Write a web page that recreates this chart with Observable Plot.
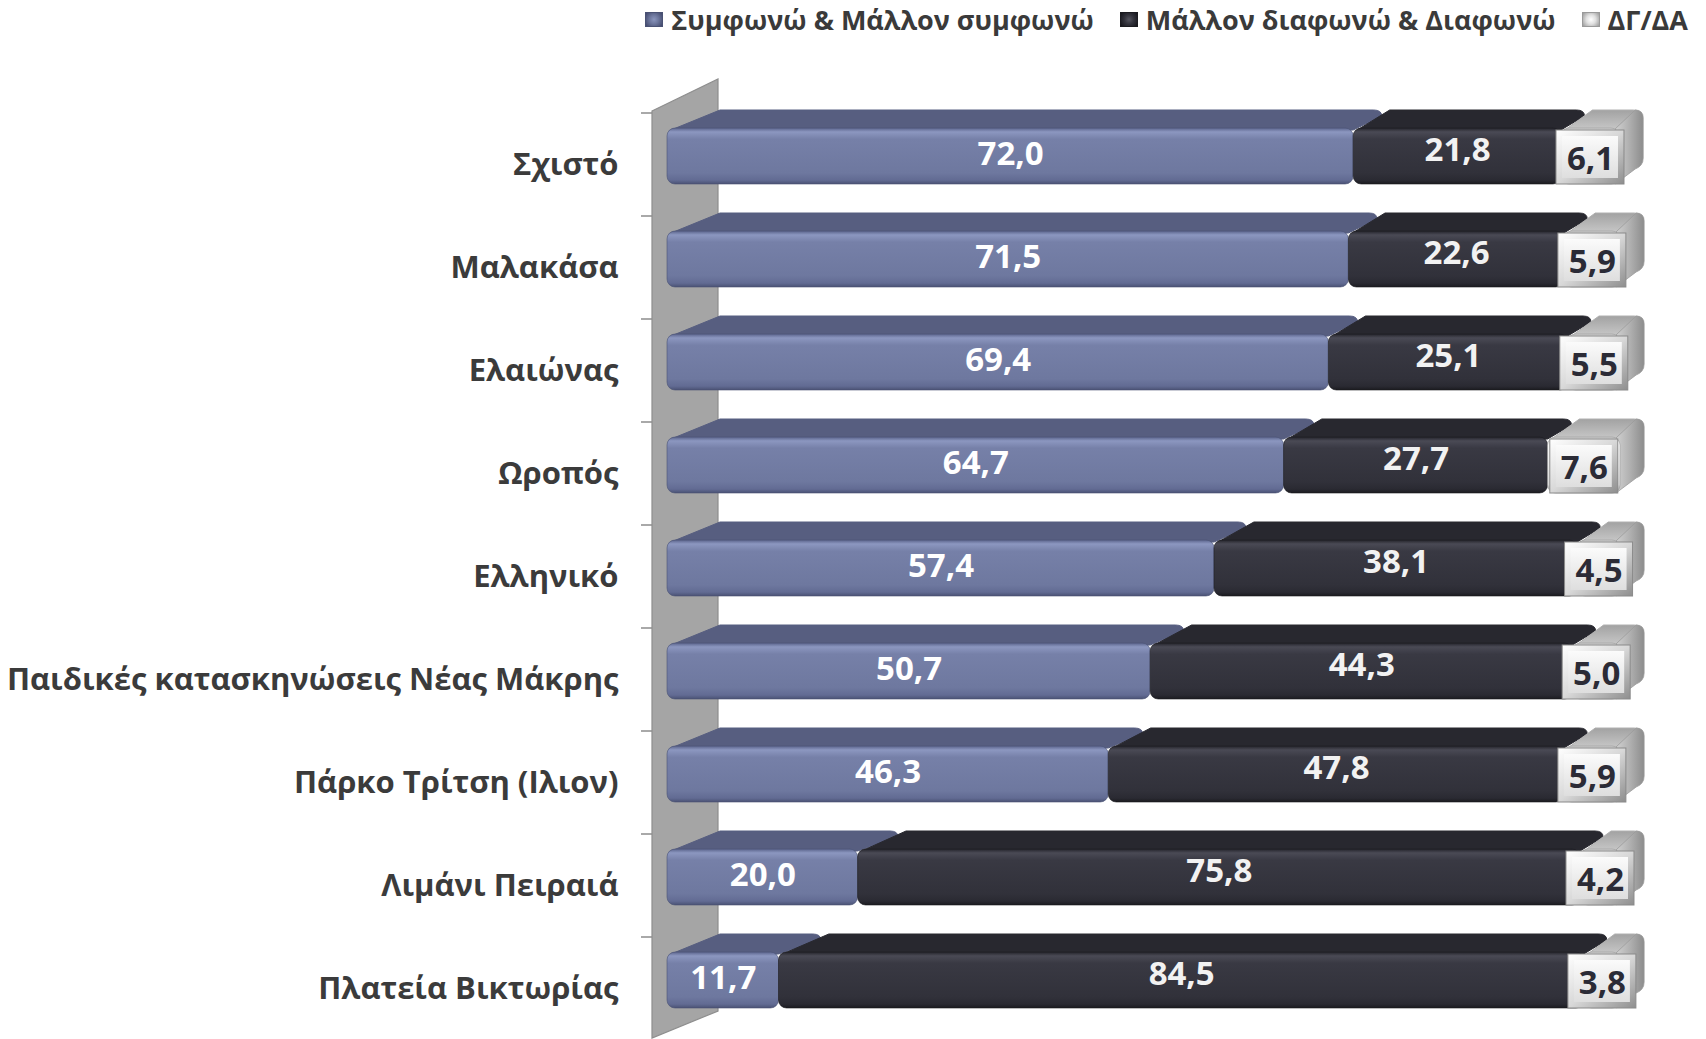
<!DOCTYPE html>
<html>
<head>
<meta charset="utf-8">
<script src="https://cdn.jsdelivr.net/npm/d3@7"></script>
<script src="https://cdn.jsdelivr.net/npm/@observablehq/plot@0.6"></script>
<style>
  html, body { margin: 0; padding: 0; background: #ffffff; }
  #wrap { position: relative; width: 1706px; height: 1039px; overflow: hidden; }
  #legend { position: absolute; top: 1px; right: 18px; display: flex; align-items: center;
            font-family: "Open Sans", sans-serif; font-weight: 700; font-size: 27px; color: #3a3a3a;
            white-space: nowrap; }
  .item { display: flex; align-items: center; margin-left: 28px; }
  .sw { width: 18px; height: 15px; margin-right: 8px; box-sizing: border-box; }
</style>
</head>
<body>
<div id="wrap"><div id="legend"></div></div>
<script>
// ---- data ----
const categories = [
  "Σχιστό",
  "Μαλακάσα",
  "Ελαιώνας",
  "Ωροπός",
  "Ελληνικό",
  "Παιδικές κατασκηνώσεις Νέας Μάκρης",
  "Πάρκο Τρίτση (Ιλιον)",
  "Λιμάνι Πειραιά",
  "Πλατεία Βικτωρίας"
];
const seriesNames = ["Συμφωνώ & Μάλλον συμφωνώ", "Μάλλον διαφωνώ & Διαφωνώ", "ΔΓ/ΔΑ"];
const agree    = [72.0, 71.5, 69.4, 64.7, 57.4, 50.7, 46.3, 20.0, 11.7];
const disagree = [21.8, 22.6, 25.1, 27.7, 38.1, 44.3, 47.8, 75.8, 84.5];
const dkna     = [6.1, 5.9, 5.5, 7.6, 4.5, 5.0, 5.9, 4.2, 3.8];
const seriesValues = [agree, disagree, dkna];

// ---- styles ----
const frontStops = [
  [[0, "#5b648c"], [0.07, "#8c97c0"], [0.2, "#7680a8"], [0.8, "#6e789f"], [0.93, "#626b93"], [1, "#4a5274"]],
  [[0, "#24242b"], [0.07, "#4a4a55"], [0.2, "#393943"], [0.8, "#31313a"], [0.93, "#2a2a32"], [1, "#1b1b20"]],
  [[0, "#c4c4c4"], [0.1, "#ffffff"], [0.5, "#f0f0f0"], [0.85, "#dcdcdc"], [1, "#9a9a9a"]]
];
const topColors = ["#575e80", "#28282f", "#b4b4b4"];
const labelColors = ["#ffffff", "#f2f2f2", "#2b2b36"];
const labelShift = [-2, -6, 3];
const fmt = v => d3.format(".1f")(v).replace(".", ",");

// ---- table ----
const rows = [];
categories.forEach((cat, i) => {
  let acc = 0;
  seriesValues.forEach((vals, k) => {
    const v = vals[i];
    rows.push({cat, k, value: v, x1: acc, x2: acc + v, mid: acc + v / 2, last: k === seriesValues.length - 1});
    acc += v;
  });
});

// ---- legend ----
const legend = d3.select("#legend");
const swatchBg = [
  "radial-gradient(circle at 50% 50%, #8a95bd 0%, #6c769c 45%, #40476a 100%)",
  "radial-gradient(circle at 50% 50%, #55555f 0%, #33333c 45%, #15151a 100%)",
  "radial-gradient(circle at 50% 50%, #ffffff 0%, #e0e0e0 45%, #9a9a9a 100%)"
];
seriesNames.forEach((name, k) => {
  const it = legend.append("div").attr("class", "item").style("margin-left", k === 0 ? "0px" : "26px");
  it.append("div").attr("class", "sw").style("background", swatchBg[k]).style("border", "1px solid " + ["#4a5274", "#1b1b20", "#9a9a9a"][k]);
  it.append("span").text(name);
});

// ---- geometry helpers (pixel space, derived from scales) ----
const DY = -18;
function depthDx(px, x0) { return 45 - 0.024 * (px - x0); }

const defsMark = () => {
  const defs = d3.create("svg:defs");
  frontStops.forEach((stops, k) => {
    const lg = defs.append("linearGradient").attr("id", "front" + k).attr("x1", 0).attr("y1", 0).attr("x2", 0).attr("y2", 1);
    stops.forEach(([o, c]) => lg.append("stop").attr("offset", o).attr("stop-color", c));
  });
  const side = defs.append("linearGradient").attr("id", "side").attr("x1", 0).attr("y1", 0).attr("x2", 1).attr("y2", 0);
  [[0, "#d0d0d0"], [0.5, "#b0b0b0"], [1, "#8c8c8c"]].forEach(([o, c]) => side.append("stop").attr("offset", o).attr("stop-color", c));
  const topG = defs.append("linearGradient").attr("id", "topgrey").attr("x1", 0).attr("y1", 1).attr("x2", 0).attr("y2", 0);
  [[0, "#c8c8c8"], [1, "#a2a2a2"]].forEach(([o, c]) => topG.append("stop").attr("offset", o).attr("stop-color", c));
  const outer = defs.append("linearGradient").attr("id", "boxOuter").attr("x1", 0).attr("y1", 0).attr("x2", 1).attr("y2", 1);
  [[0, "#ffffff"], [0.5, "#d8d8d8"], [1, "#8e8e8e"]].forEach(([o, c]) => outer.append("stop").attr("offset", o).attr("stop-color", c));
  const inner = defs.append("linearGradient").attr("id", "boxInner").attr("x1", 0).attr("y1", 0).attr("x2", 0).attr("y2", 1);
  [[0, "#fbfbfb"], [1, "#dedede"]].forEach(([o, c]) => inner.append("stop").attr("offset", o).attr("stop-color", c));
  return defs.node();
};

const wallMark = (index, scales) => {
  const x = scales.x, y = scales.y;
  const bw = y.bandwidth ? y.bandwidth() : 56;
  const x0 = x(0);
  const g = d3.create("svg:g");
  const yTop = y(categories[0]) - 17;
  const yBot = y(categories[categories.length - 1]) + bw + 30;
  const fx = x0 - 15, bx = x0 + 51;
  g.append("polygon")
    .attr("points", [[fx, yTop], [bx, yTop - 32], [bx, yBot - 27], [fx, yBot]].map(p => p.join(",")).join(" "))
    .attr("fill", "#a5a5a5").attr("stroke", "#8e8e8e").attr("stroke-width", 1.2);
  categories.forEach(c => {
    const ty = y(c) - 15;
    g.append("line").attr("x1", fx - 11).attr("x2", fx).attr("y1", ty).attr("y2", ty)
      .attr("stroke", "#8c8c8c").attr("stroke-width", 1.5);
  });
  return g.node();
};

const depthMark = (index, scales) => {
  const x = scales.x, y = scales.y;
  const bw = y.bandwidth ? y.bandwidth() : 56;
  const x0 = x(0);
  const g = d3.create("svg:g");
  rows.forEach(r => {
    const yt = y(r.cat);
    const a = x(r.x1), b = x(r.x2);
    const ab = a + depthDx(a, x0), bb = b + depthDx(b, x0);
    const rr = 8;
    const d = `M${a + 4},${yt + 2} L${ab + rr},${yt + DY} L${bb - rr},${yt + DY} Q${bb},${yt + DY} ${bb},${yt + DY + 6} L${b},${yt + 2} Z`;
    g.append("path").attr("d", d).attr("fill", r.k === 2 ? "url(#topgrey)" : topColors[r.k])
      .attr("stroke", r.k === 2 ? "#b0b0b0" : topColors[r.k]).attr("stroke-width", 1).attr("stroke-linejoin", "round");
    if (r.last) {
      const sd = `M${b - 4},${yt + 1} L${bb - 6},${yt + DY} Q${bb + 2},${yt + DY} ${bb + 2},${yt + DY + 8} L${bb + 2},${yt + bw + DY - 8} Q${bb + 2},${yt + bw + DY} ${bb - 6},${yt + bw + DY + 3} L${b - 4},${yt + bw} Z`;
      g.append("path").attr("d", sd).attr("fill", "url(#side)").attr("stroke", "#9a9a9a").attr("stroke-width", 0.8);
    }
  });
  return g.node();
};

const boxMark = (index, scales) => {
  const x = scales.x, y = scales.y;
  const bw = y.bandwidth ? y.bandwidth() : 56;
  const g = d3.create("svg:g");
  rows.filter(r => r.k === 2).forEach(r => {
    const cx = x(r.mid), yt = y(r.cat) + 2;
    const w = 68, h = bw - 2;
    g.append("rect").attr("x", cx - w / 2).attr("y", yt).attr("width", w).attr("height", h)
      .attr("fill", "url(#boxOuter)").attr("stroke", "#8a8a8a").attr("stroke-width", 1);
    g.append("rect").attr("x", cx - w / 2 + 6).attr("y", yt + 6).attr("width", w - 12).attr("height", h - 12)
      .attr("fill", "url(#boxInner)");
  });
  return g.node();
};

const frontMarks = [0, 1, 2].map(k =>
  Plot.barX(rows.filter(r => r.k === k), {
    x1: "x1", x2: "x2", y: "cat",
    fill: `url(#front${k})`, rx: 8,
    stroke: ["#4a5274", "#1b1b20", "#9a9a9a"][k], strokeWidth: 0.6
  })
);

const valueMarks = [0, 1, 2].map(k =>
  Plot.text(rows.filter(r => r.k === k), {
    x: "mid", y: "cat", text: d => fmt(d.value),
    fill: labelColors[k], dy: labelShift[k],
    fontSize: 33, fontWeight: 700, fontFamily: "Open Sans"
  })
);

const plot = Plot.plot({
  width: 1706,
  height: 1039,
  marginLeft: 667,
  marginRight: 86,
  marginTop: 0,
  marginBottom: 0,
  style: {fontFamily: "Open Sans", background: "transparent"},
  x: {domain: [0, 100], axis: null},
  y: {domain: categories, range: [106, 1030], paddingInner: 0.46, paddingOuter: 0.2, axis: null},
  marks: [
    defsMark,
    wallMark,
    depthMark,
    ...frontMarks,
    boxMark,
    ...valueMarks,
    Plot.text(categories, {
      x: d => 0, y: d => d, text: d => d,
      textAnchor: "end", dx: -49, dy: 9,
      fontSize: 31, fontWeight: 700, fontFamily: "Open Sans", fill: "#3b3b3b"
    })
  ]
});
d3.select(plot).style("position", "absolute").style("left", "0px").style("top", "0px");
document.getElementById("wrap").insertBefore(plot, document.getElementById("legend"));
</script>
</body>
</html>
